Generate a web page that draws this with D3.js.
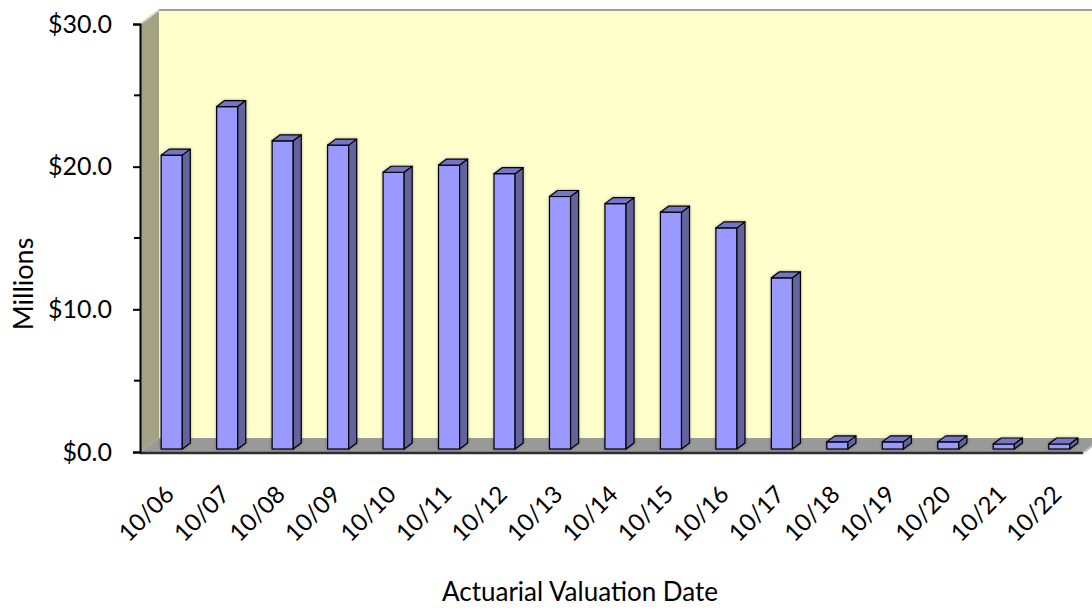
<!DOCTYPE html>
<html>
<head><meta charset="utf-8">
<style>
  body { margin: 0; background: #fff; }
  text { font-family: Lato, "Open Sans", sans-serif; fill: #000; }
</style>
</head>
<body>
<script src="https://d3js.org/d3.v7.min.js"></script>
<script>
// values in $ millions
var dates = ["10/06","10/07","10/08","10/09","10/10","10/11","10/12","10/13","10/14",
             "10/15","10/16","10/17","10/18","10/19","10/20","10/21","10/22"];
var values = [20.6, 24.0, 21.6, 21.3, 19.4, 19.9, 19.3, 17.7, 17.2,
              16.6, 15.5, 12.0, 0.5, 0.5, 0.5, 0.35, 0.35];
var yTicks = [0, 10, 20, 30];
var yMinor = [5, 15, 25];

var width = 1092, height = 610;
var depthX = 19, depthY = -14;      // wall depth
var barDX = 8, barDY = -6;           // bar depth
var barShiftX = 4, barShiftY = -3;   // bars sit a bit behind the front edge

var svg = d3.select("body").append("svg")
    .attr("width", width).attr("height", height);

var defs = svg.append("defs");
var glow = defs.append("filter").attr("id", "glow")
    .attr("x", "-30%").attr("y", "-30%").attr("width", "160%").attr("height", "160%");
glow.append("feGaussianBlur").attr("in", "SourceAlpha").attr("stdDeviation", 1.5).attr("result", "b");
glow.append("feComponentTransfer").attr("in", "b").attr("result", "b2")
  .append("feFuncA").attr("type", "linear").attr("slope", 0.35);
var fm = glow.append("feMerge");
fm.append("feMergeNode").attr("in", "b2");
fm.append("feMergeNode").attr("in", "SourceGraphic");

var x = d3.scaleBand().domain(dates).range([140, 1083]).paddingInner(0.62).paddingOuter(0.31);
var y = d3.scaleLinear().domain([0, 30]).range([452, 24]);

var x0 = 140, x1 = 1083, yb = y(0), yt = y(30);

// back wall
svg.append("polygon")
  .attr("points", [[x0+depthX, yt+depthY], [x1+depthX, yt+depthY], [x1+depthX, yb+depthY], [x0+depthX, yb+depthY]].join(" "))
  .attr("fill", "#ffffcc");
svg.append("line")
  .attr("x1", x0+depthX).attr("x2", x1+depthX+20)
  .attr("y1", yt+depthY).attr("y2", yt+depthY)
  .attr("stroke", "#a0a0a0").attr("stroke-width", 2);

// left wall
svg.append("polygon")
  .attr("points", [[x0, yt], [x0+depthX, yt+depthY], [x0+depthX, yb+depthY], [x0, yb]].join(" "))
  .attr("fill", "#a3a383");
svg.append("line")
  .attr("x1", x0).attr("y1", yt).attr("x2", x0+depthX).attr("y2", yt+depthY)
  .attr("stroke", "#d8d8d8").attr("stroke-width", 2);

// floor
svg.append("polygon")
  .attr("points", [[x0, yb], [x0+depthX, yb+depthY], [x1+depthX, yb+depthY], [x1, yb]].join(" "))
  .attr("fill", "#999999");
svg.append("line")
  .attr("x1", x0).attr("x2", x1).attr("y1", yb+1).attr("y2", yb+1)
  .attr("stroke", "#2e2e2e").attr("stroke-width", 2.5);
svg.append("line")
  .attr("x1", x1).attr("y1", yb+1).attr("x2", x1+depthX).attr("y2", yb+depthY)
  .attr("stroke", "#bbbbbb").attr("stroke-width", 2);

// bars
var bars = svg.append("g").attr("filter", "url(#glow)")
  .selectAll("g").data(values).enter().append("g");

bars.each(function(v, i) {
  var g = d3.select(this);
  var bx = x(dates[i]) + barShiftX, bw = x.bandwidth();
  var top = y(v) + barShiftY, bot = y(0) + barShiftY;
  g.append("rect")
    .attr("x", bx).attr("y", top).attr("width", bw).attr("height", bot - top)
    .attr("fill", "#9999ff").attr("stroke", "#000").attr("stroke-width", 1.2);
  g.append("polygon")
    .attr("points", [[bx+bw, top], [bx+bw+barDX, top+barDY], [bx+bw+barDX, bot+barDY], [bx+bw, bot]].join(" "))
    .attr("fill", "#64649e").attr("stroke", "#000").attr("stroke-width", 1.2).attr("stroke-linejoin", "round");
  g.append("polygon")
    .attr("points", [[bx, top], [bx+barDX, top+barDY], [bx+bw+barDX, top+barDY], [bx+bw, top]].join(" "))
    .attr("fill", "#7474c8").attr("stroke", "#000").attr("stroke-width", 1.2).attr("stroke-linejoin", "round");
});

// y axis
var yAxis = d3.axisLeft(y).tickValues(yTicks).tickSize(7).tickPadding(21)
  .tickFormat(function(d) { return "$" + d3.format(".1f")(d); });
var ya = svg.append("g").attr("transform", "translate(" + x0 + ",0)").call(yAxis);
ya.select(".domain").attr("stroke", "#000").attr("stroke-width", 2);
ya.selectAll(".tick line").attr("stroke", "#000").attr("stroke-width", 2);
ya.selectAll("text").style("font-size", "25px").attr("fill", "#000");
ya.selectAll(".minor").data(yMinor).enter().append("line")
  .attr("class", "minor")
  .attr("x1", -6).attr("x2", 0).attr("y1", function(d) { return y(d); }).attr("y2", function(d) { return y(d); })
  .attr("stroke", "#000").attr("stroke-width", 2);

// x labels
svg.append("g").selectAll("text").data(dates).enter().append("text")
  .attr("transform", function(d) {
    return "translate(" + (x(d) + x.bandwidth() / 2 + 2) + ",490) rotate(-45)";
  })
  .attr("text-anchor", "end")
  .attr("dy", "0.35em")
  .style("font-size", "24px")
  .text(function(d) { return d; });

// axis titles
svg.append("text")
  .attr("transform", "translate(33,284) rotate(-90)")
  .attr("text-anchor", "middle")
  .style("font-size", "27px")
  .text("Millions");
svg.append("text")
  .attr("x", 580).attr("y", 601)
  .attr("text-anchor", "middle")
  .style("font-size", "26px")
  .text("Actuarial Valuation Date");
</script>
</body>
</html>
